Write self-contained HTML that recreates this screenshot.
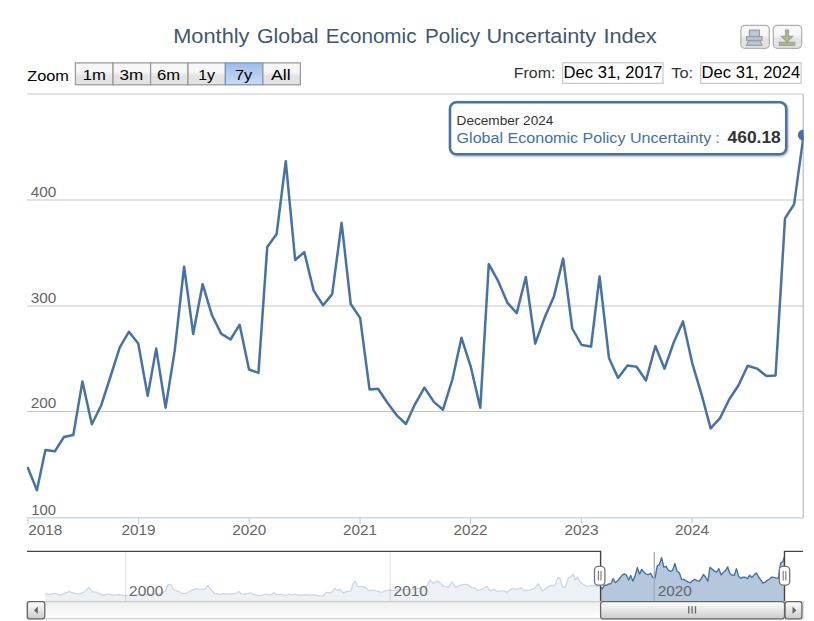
<!DOCTYPE html>
<html><head><meta charset="utf-8"><title>Monthly Global Economic Policy Uncertainty Index</title>
<style>
html,body{margin:0;padding:0;background:#fff;}
body{width:814px;height:621px;overflow:hidden;font-family:"Liberation Sans",sans-serif;}
svg{display:block;font-family:"Liberation Sans",sans-serif;}
</style></head><body>
<svg width="814" height="621" viewBox="0 0 814 621">
<defs>
<linearGradient id="gBtn" x1="0" y1="0" x2="0" y2="1"><stop offset="0.4" stop-color="#F7F7F7"/><stop offset="0.6" stop-color="#E3E3E3"/></linearGradient>
<linearGradient id="gSel" x1="0" y1="0" x2="0" y2="1"><stop offset="0" stop-color="#9FBCE4"/><stop offset="1" stop-color="#CADBF9"/></linearGradient>
<linearGradient id="gBar" x1="0" y1="0" x2="0" y2="1"><stop offset="0" stop-color="#FFFFFF"/><stop offset="1" stop-color="#CCCCCC"/></linearGradient>
<linearGradient id="gTrack" x1="0" y1="0" x2="0" y2="1"><stop offset="0" stop-color="#EEEEEE"/><stop offset="1" stop-color="#FFFFFF"/></linearGradient>
<clipPath id="plotClip"><rect x="27" y="90" width="776.6" height="428"/></clipPath>
<clipPath id="navIn"><rect x="600.6" y="545" width="183.89999999999998" height="60"/></clipPath>
<clipPath id="navOutL"><rect x="0" y="545" width="600.6" height="60"/></clipPath>
</defs>
<rect x="0" y="0" width="814" height="621" fill="#FFFFFF"/>

<g id="title">
<text x="173.2" y="42.6" font-size="20.5" fill="#3E576F" text-anchor="start" font-weight="normal" textLength="76.3" lengthAdjust="spacingAndGlyphs">Monthly</text>
<text x="257" y="42.6" font-size="20.5" fill="#3E576F" text-anchor="start" font-weight="normal" textLength="61.6" lengthAdjust="spacingAndGlyphs">Global</text>
<text x="325.8" y="42.6" font-size="20.5" fill="#3E576F" text-anchor="start" font-weight="normal" textLength="90.7" lengthAdjust="spacingAndGlyphs">Economic</text>
<text x="425" y="42.6" font-size="20.5" fill="#3E576F" text-anchor="start" font-weight="normal" textLength="55" lengthAdjust="spacingAndGlyphs">Policy</text>
<text x="486.4" y="42.6" font-size="20.5" fill="#3E576F" text-anchor="start" font-weight="normal" textLength="109.8" lengthAdjust="spacingAndGlyphs">Uncertainty</text>
<text x="603.4" y="42.6" font-size="20.5" fill="#3E576F" text-anchor="start" font-weight="normal" textLength="53.3" lengthAdjust="spacingAndGlyphs">Index</text>
</g>
<g id="exportButtons">
<rect x="740.9" y="25.3" width="28.4" height="23" rx="4" ry="4" fill="url(#gBtn)" stroke="#B0B0B0" stroke-width="1.25"/>
<rect x="773.3" y="25.3" width="28.4" height="23" rx="4" ry="4" fill="url(#gBtn)" stroke="#B0B0B0" stroke-width="1.25"/>
<path d="M746.6 40.3 L762 40.3 L762 36.6 L746.6 36.6 Z M749.4 36.6 L749.4 30 L759.4 30 L759.4 36.6 Z M748.6 40.9 L746.6 45.3 L762 45.3 L760 40.9 Z" fill="#B5C9DF" stroke="#A0A0A0" stroke-width="1.25"/>
<path d="M779.4 45.3 L794.7 45.3 L794.7 42.4 L779.4 42.4 Z M785.6 36.4 L785.6 30 L788.5 30 L788.5 36.4 L792.6 36.4 L787.05 41.9 L781.4 36.4 Z" fill="#A8BF77" stroke="#A0A0A0" stroke-width="1.25"/>
</g>
<g id="rangeSelector">
<text x="27.2" y="81.2" font-size="14.2" fill="#000000" text-anchor="start" font-weight="normal" textLength="41.6" lengthAdjust="spacingAndGlyphs">Zoom</text>
<rect x="75.4" y="62.9" width="37.6" height="21.9" fill="url(#gBtn)" stroke="#999999" stroke-width="1.25"/>
<rect x="113" y="62.9" width="37.6" height="21.9" fill="url(#gBtn)" stroke="#999999" stroke-width="1.25"/>
<rect x="150.6" y="62.9" width="37.4" height="21.9" fill="url(#gBtn)" stroke="#999999" stroke-width="1.25"/>
<rect x="188" y="62.9" width="37.4" height="21.9" fill="url(#gBtn)" stroke="#999999" stroke-width="1.25"/>
<rect x="225.4" y="62.9" width="37.5" height="21.9" fill="url(#gSel)" stroke="#7096C6" stroke-width="1.25"/>
<rect x="262.9" y="62.9" width="37.5" height="21.9" fill="url(#gBtn)" stroke="#999999" stroke-width="1.25"/>
<text x="82.69999999999999" y="80.2" font-size="14.6" fill="#000000" text-anchor="start" font-weight="normal" textLength="23.1" lengthAdjust="spacingAndGlyphs">1m</text>
<text x="119.5" y="80.2" font-size="14.6" fill="#000000" text-anchor="start" font-weight="normal" textLength="23.7" lengthAdjust="spacingAndGlyphs">3m</text>
<text x="156.9" y="80.2" font-size="14.6" fill="#000000" text-anchor="start" font-weight="normal" textLength="23.1" lengthAdjust="spacingAndGlyphs">6m</text>
<text x="198.2" y="80.2" font-size="14.6" fill="#000000" text-anchor="start" font-weight="normal" textLength="16.9" lengthAdjust="spacingAndGlyphs">1y</text>
<text x="235.0" y="80.2" font-size="14.6" fill="#000000" text-anchor="start" font-weight="normal" textLength="17.3" lengthAdjust="spacingAndGlyphs">7y</text>
<text x="270.90000000000003" y="80.2" font-size="14.6" fill="#000000" text-anchor="start" font-weight="normal" textLength="19.7" lengthAdjust="spacingAndGlyphs">All</text>
</g>
<g id="inputs">
<text x="513.8" y="77.6" font-size="15.4" fill="#333333" text-anchor="start" font-weight="normal" textLength="41.5" lengthAdjust="spacingAndGlyphs">From:</text>
<rect x="562.7" y="62.8" width="100.3" height="20.5" fill="#FFFFFF" stroke="#BDBDBD" stroke-width="1"/>
<text x="563.6" y="78.0" font-size="15.6" fill="#000000" text-anchor="start" font-weight="normal" textLength="98.6" lengthAdjust="spacingAndGlyphs">Dec 31, 2017</text>
<text x="671.2" y="77.6" font-size="15.4" fill="#333333" text-anchor="start" font-weight="normal" textLength="22" lengthAdjust="spacingAndGlyphs">To:</text>
<rect x="700.7" y="62.8" width="100.4" height="20.5" fill="#FFFFFF" stroke="#BDBDBD" stroke-width="1"/>
<text x="701.6" y="78.0" font-size="15.6" fill="#000000" text-anchor="start" font-weight="normal" textLength="98.6" lengthAdjust="spacingAndGlyphs">Dec 31, 2024</text>
</g>
<g id="grid" stroke="#C6C6C6" stroke-width="1.2">
<line x1="27" y1="94" x2="803" y2="94"/>
<line x1="27" y1="200" x2="803" y2="200"/>
<line x1="27" y1="306" x2="803" y2="306"/>
<line x1="27" y1="411.5" x2="803" y2="411.5"/>
</g>
<line x1="803.2" y1="94" x2="803.2" y2="518" stroke="#C0C0C0" stroke-width="1.25"/>
<g id="xaxis" stroke="#C0D0E0" stroke-width="1.25">
<line x1="27" y1="517.8" x2="803.6" y2="517.8"/>
<line x1="27.8" y1="517.8" x2="27.8" y2="523.8"/>
<line x1="138.5" y1="517.8" x2="138.5" y2="523.8"/>
<line x1="249.2" y1="517.8" x2="249.2" y2="523.8"/>
<line x1="360" y1="517.8" x2="360" y2="523.8"/>
<line x1="470.6" y1="517.8" x2="470.6" y2="523.8"/>
<line x1="581.4" y1="517.8" x2="581.4" y2="523.8"/>
<line x1="692.1" y1="517.8" x2="692.1" y2="523.8"/>
</g>
<g id="xlabels">
<text x="28.3" y="534.8" font-size="13.9" fill="#666666" text-anchor="start" font-weight="normal" textLength="34" lengthAdjust="spacingAndGlyphs">2018</text>
<text x="121.5" y="534.8" font-size="13.9" fill="#666666" text-anchor="start" font-weight="normal" textLength="34" lengthAdjust="spacingAndGlyphs">2019</text>
<text x="232.2" y="534.8" font-size="13.9" fill="#666666" text-anchor="start" font-weight="normal" textLength="34" lengthAdjust="spacingAndGlyphs">2020</text>
<text x="343" y="534.8" font-size="13.9" fill="#666666" text-anchor="start" font-weight="normal" textLength="34" lengthAdjust="spacingAndGlyphs">2021</text>
<text x="453.6" y="534.8" font-size="13.9" fill="#666666" text-anchor="start" font-weight="normal" textLength="34" lengthAdjust="spacingAndGlyphs">2022</text>
<text x="564.4" y="534.8" font-size="13.9" fill="#666666" text-anchor="start" font-weight="normal" textLength="34" lengthAdjust="spacingAndGlyphs">2023</text>
<text x="675.1" y="534.8" font-size="13.9" fill="#666666" text-anchor="start" font-weight="normal" textLength="34" lengthAdjust="spacingAndGlyphs">2024</text>
</g>
<g id="ylabels">
<text x="31.3" y="514.7" font-size="13.9" fill="#666666" text-anchor="start" font-weight="normal" textLength="24.8" lengthAdjust="spacingAndGlyphs">100</text>
<text x="30.8" y="408.2" font-size="13.9" fill="#666666" text-anchor="start" font-weight="normal" textLength="25.6" lengthAdjust="spacingAndGlyphs">200</text>
<text x="30.8" y="302.7" font-size="13.9" fill="#666666" text-anchor="start" font-weight="normal" textLength="25.6" lengthAdjust="spacingAndGlyphs">300</text>
<text x="30.8" y="196.7" font-size="13.9" fill="#666666" text-anchor="start" font-weight="normal" textLength="25.6" lengthAdjust="spacingAndGlyphs">400</text>
</g>
<g clip-path="url(#plotClip)"><path d="M27.50 467.00 L36.91 490.20 L45.41 450.00 L54.81 451.30 L63.92 437.00 L73.33 435.00 L82.43 381.40 L91.84 424.30 L101.25 405.20 L110.35 377.00 L119.76 347.30 L128.86 331.80 L138.27 343.50 L147.68 395.90 L156.18 348.60 L165.58 407.65 L174.69 350.90 L184.10 266.70 L193.20 334.00 L202.61 284.20 L212.02 315.30 L221.12 333.60 L230.53 339.50 L239.63 324.70 L249.04 369.50 L258.45 372.90 L267.25 247.00 L276.66 233.90 L285.76 161.20 L295.17 260.00 L304.27 252.10 L313.68 290.60 L323.09 305.20 L332.19 294.10 L341.60 222.80 L350.71 304.00 L360.11 317.90 L369.52 389.40 L378.02 388.80 L387.43 402.80 L396.53 415.10 L405.94 424.00 L415.04 404.10 L424.45 387.60 L433.86 401.90 L442.96 409.70 L452.37 379.50 L461.48 337.80 L470.89 367.20 L480.29 407.80 L488.79 264.10 L498.20 281.20 L507.30 302.60 L516.71 313.10 L525.82 277.00 L535.22 343.70 L544.63 317.60 L553.74 297.10 L563.14 258.60 L572.25 328.50 L581.66 345.00 L591.06 346.50 L599.56 276.40 L608.97 358.10 L618.07 377.90 L627.48 365.40 L636.59 366.80 L645.99 380.45 L655.40 346.00 L664.51 368.70 L673.91 342.00 L683.02 321.40 L692.43 363.90 L701.83 395.40 L710.63 428.35 L720.04 418.10 L729.15 399.50 L738.56 385.30 L747.66 365.70 L757.07 368.60 L766.48 376.00 L775.58 375.40 L784.99 218.40 L794.09 204.30 L803.50 135.80" fill="none" stroke="#4572A7" stroke-width="2.5" stroke-linejoin="round" stroke-linecap="butt"/>
<circle cx="803.5" cy="135.0" r="5.6" fill="#4572A7"/></g>
<g id="tooltip">
<rect x="451" y="103.2" width="336.2" height="52" rx="6.5" ry="6.5" fill="none" stroke="#000000" stroke-opacity="0.05" stroke-width="6"/>
<rect x="451" y="103.2" width="336.2" height="52" rx="6.5" ry="6.5" fill="none" stroke="#000000" stroke-opacity="0.08" stroke-width="4"/>
<rect x="451" y="103.2" width="336.2" height="52" rx="6.5" ry="6.5" fill="none" stroke="#000000" stroke-opacity="0.12" stroke-width="2"/>
<rect x="450" y="102.2" width="336.2" height="52" rx="6.5" ry="6.5" fill="#FFFFFF" fill-opacity="0.92" stroke="#4572A7" stroke-width="2.5"/>
<text x="456.6" y="124.9" font-size="12.9" fill="#333333" text-anchor="start" font-weight="normal" textLength="96.8" lengthAdjust="spacingAndGlyphs">December 2024</text>
<text x="456.6" y="142.5" font-size="15.2" fill="#4572A7" text-anchor="start" font-weight="normal" textLength="254.6" lengthAdjust="spacingAndGlyphs">Global Economic Policy Uncertainty</text>
<text x="715.6" y="142.5" font-size="15.2" fill="#4572A7" text-anchor="start" font-weight="normal">:</text>
<text x="727.6" y="142.9" font-size="16.2" fill="#333333" text-anchor="start" font-weight="bold" textLength="53.2" lengthAdjust="spacingAndGlyphs">460.18</text>
</g>
<g id="navigator">
<g clip-path="url(#navOutL)"><path d="M45.16 593.54 L49.21 594.64 L52.90 593.72 L56.58 593.72 L60.27 595.38 L64.88 593.17 L69.48 591.69 L74.09 593.17 L78.70 594.09 L84.22 592.25 L88.83 587.64 L92.52 591.69 L97.12 592.25 L102.65 595.38 L108.18 594.09 L113.71 595.01 L119.23 594.64 L124.76 595.56 L130.29 595.01 L139.50 594.64 L150.56 594.27 L159.77 593.54 L165.30 591.32 L168.06 584.51 L170.83 584.51 L173.59 589.48 L178.20 591.32 L182.11 593.72 L185.80 593.72 L190.40 590.96 L195.01 588.93 L199.62 589.48 L205.14 588.93 L207.91 585.43 L210.67 589.48 L214.36 593.17 L218.96 594.27 L223.57 593.54 L228.18 594.09 L233.71 593.54 L237.02 593.17 L238.86 591.32 L241.08 593.72 L244.76 594.46 L250.29 592.80 L253.97 594.46 L259.50 595.93 L265.03 594.27 L270.56 595.01 L273.88 592.80 L276.09 594.64 L281.61 594.27 L286.22 595.56 L288.98 594.09 L291.75 595.01 L294.51 594.09 L300.04 595.38 L304.61 594.64 L309.21 595.38 L313.82 594.64 L318.43 595.93 L323.03 595.93 L326.72 592.25 L330.40 593.17 L335.01 588.19 L336.85 590.40 L339.62 588.93 L343.30 593.17 L346.99 591.32 L350.67 590.96 L353.44 583.03 L355.28 581.19 L357.49 586.35 L361.73 586.72 L365.41 587.27 L369.10 590.77 L372.78 589.85 L377.39 591.32 L382.00 592.25 L386.60 590.40 L390.29 590.04 L393.97 590.40 L403.19 589.48 L414.24 589.11 L421.61 587.64 L427.14 585.80 L429.91 579.90 L433.59 583.59 L437.28 580.82 L440.96 583.95 L444.18 586.33 L448.35 587.37 L452.11 581.73 L455.66 587.37 L459.84 585.28 L464.02 584.24 L468.20 584.87 L471.33 588.00 L474.46 587.79 L477.59 590.51 L481.77 589.46 L486.99 586.33 L490.13 590.92 L494.30 589.46 L497.44 591.55 L502.66 590.51 L506.83 592.18 L512.06 588.42 L517.28 589.46 L520.41 587.79 L524.59 590.51 L529.81 590.09 L535.03 588.00 L538.16 583.61 L542.34 590.92 L546.52 588.00 L550.69 585.28 L554.45 585.91 L558.00 577.56 L560.09 577.97 L562.18 586.33 L565.31 587.37 L568.45 577.56 L570.53 576.93 L573.25 574.21 L575.34 580.06 L577.43 576.93 L579.93 581.73 L583.07 584.24 L587.24 586.33 L590.38 585.91 L594.55 585.28 L599.99 586.81 L602.23 589.03 L604.26 585.19 L606.50 585.31 L608.68 583.95 L610.92 583.76 L613.09 578.64 L615.34 582.73 L617.58 580.91 L619.75 578.22 L622.00 575.38 L624.17 573.90 L626.42 575.02 L628.66 580.02 L630.69 575.51 L632.93 581.14 L635.11 575.73 L637.35 567.69 L639.52 574.11 L641.77 569.36 L644.01 572.33 L646.18 574.08 L648.43 574.64 L650.60 573.23 L652.85 577.50 L655.08 577.83 L657.18 565.81 L659.42 564.56 L661.58 557.62 L663.82 567.05 L665.99 566.29 L668.23 569.97 L670.47 571.36 L672.63 570.30 L674.87 563.50 L677.04 571.25 L679.28 572.58 L681.52 579.40 L683.55 579.35 L685.79 580.68 L687.97 581.86 L690.21 582.71 L692.38 580.81 L694.63 579.23 L696.87 580.60 L699.04 581.34 L701.29 578.46 L703.46 574.48 L705.71 577.28 L707.95 581.16 L709.98 567.44 L712.22 569.07 L714.40 571.12 L716.64 572.12 L718.81 568.67 L721.06 575.04 L723.30 572.55 L725.47 570.59 L727.72 566.91 L729.89 573.59 L732.14 575.16 L734.38 575.31 L736.41 568.61 L738.65 576.41 L740.83 578.30 L743.07 577.11 L745.24 577.24 L747.49 578.55 L749.73 575.26 L751.90 577.43 L754.15 574.88 L756.32 572.91 L758.57 576.97 L760.80 579.98 L762.90 583.12 L765.14 582.14 L767.30 580.37 L769.54 579.01 L771.71 577.14 L773.95 577.42 L776.19 578.12 L778.35 578.07 L780.59 563.08 L782.76 561.73 L785.00 555.19 L785.00 601.2 L45.16 601.2 Z" fill="#EDF1F6"/><path d="M45.16 593.54 L49.21 594.64 L52.90 593.72 L56.58 593.72 L60.27 595.38 L64.88 593.17 L69.48 591.69 L74.09 593.17 L78.70 594.09 L84.22 592.25 L88.83 587.64 L92.52 591.69 L97.12 592.25 L102.65 595.38 L108.18 594.09 L113.71 595.01 L119.23 594.64 L124.76 595.56 L130.29 595.01 L139.50 594.64 L150.56 594.27 L159.77 593.54 L165.30 591.32 L168.06 584.51 L170.83 584.51 L173.59 589.48 L178.20 591.32 L182.11 593.72 L185.80 593.72 L190.40 590.96 L195.01 588.93 L199.62 589.48 L205.14 588.93 L207.91 585.43 L210.67 589.48 L214.36 593.17 L218.96 594.27 L223.57 593.54 L228.18 594.09 L233.71 593.54 L237.02 593.17 L238.86 591.32 L241.08 593.72 L244.76 594.46 L250.29 592.80 L253.97 594.46 L259.50 595.93 L265.03 594.27 L270.56 595.01 L273.88 592.80 L276.09 594.64 L281.61 594.27 L286.22 595.56 L288.98 594.09 L291.75 595.01 L294.51 594.09 L300.04 595.38 L304.61 594.64 L309.21 595.38 L313.82 594.64 L318.43 595.93 L323.03 595.93 L326.72 592.25 L330.40 593.17 L335.01 588.19 L336.85 590.40 L339.62 588.93 L343.30 593.17 L346.99 591.32 L350.67 590.96 L353.44 583.03 L355.28 581.19 L357.49 586.35 L361.73 586.72 L365.41 587.27 L369.10 590.77 L372.78 589.85 L377.39 591.32 L382.00 592.25 L386.60 590.40 L390.29 590.04 L393.97 590.40 L403.19 589.48 L414.24 589.11 L421.61 587.64 L427.14 585.80 L429.91 579.90 L433.59 583.59 L437.28 580.82 L440.96 583.95 L444.18 586.33 L448.35 587.37 L452.11 581.73 L455.66 587.37 L459.84 585.28 L464.02 584.24 L468.20 584.87 L471.33 588.00 L474.46 587.79 L477.59 590.51 L481.77 589.46 L486.99 586.33 L490.13 590.92 L494.30 589.46 L497.44 591.55 L502.66 590.51 L506.83 592.18 L512.06 588.42 L517.28 589.46 L520.41 587.79 L524.59 590.51 L529.81 590.09 L535.03 588.00 L538.16 583.61 L542.34 590.92 L546.52 588.00 L550.69 585.28 L554.45 585.91 L558.00 577.56 L560.09 577.97 L562.18 586.33 L565.31 587.37 L568.45 577.56 L570.53 576.93 L573.25 574.21 L575.34 580.06 L577.43 576.93 L579.93 581.73 L583.07 584.24 L587.24 586.33 L590.38 585.91 L594.55 585.28 L599.99 586.81 L602.23 589.03 L604.26 585.19 L606.50 585.31 L608.68 583.95 L610.92 583.76 L613.09 578.64 L615.34 582.73 L617.58 580.91 L619.75 578.22 L622.00 575.38 L624.17 573.90 L626.42 575.02 L628.66 580.02 L630.69 575.51 L632.93 581.14 L635.11 575.73 L637.35 567.69 L639.52 574.11 L641.77 569.36 L644.01 572.33 L646.18 574.08 L648.43 574.64 L650.60 573.23 L652.85 577.50 L655.08 577.83 L657.18 565.81 L659.42 564.56 L661.58 557.62 L663.82 567.05 L665.99 566.29 L668.23 569.97 L670.47 571.36 L672.63 570.30 L674.87 563.50 L677.04 571.25 L679.28 572.58 L681.52 579.40 L683.55 579.35 L685.79 580.68 L687.97 581.86 L690.21 582.71 L692.38 580.81 L694.63 579.23 L696.87 580.60 L699.04 581.34 L701.29 578.46 L703.46 574.48 L705.71 577.28 L707.95 581.16 L709.98 567.44 L712.22 569.07 L714.40 571.12 L716.64 572.12 L718.81 568.67 L721.06 575.04 L723.30 572.55 L725.47 570.59 L727.72 566.91 L729.89 573.59 L732.14 575.16 L734.38 575.31 L736.41 568.61 L738.65 576.41 L740.83 578.30 L743.07 577.11 L745.24 577.24 L747.49 578.55 L749.73 575.26 L751.90 577.43 L754.15 574.88 L756.32 572.91 L758.57 576.97 L760.80 579.98 L762.90 583.12 L765.14 582.14 L767.30 580.37 L769.54 579.01 L771.71 577.14 L773.95 577.42 L776.19 578.12 L778.35 578.07 L780.59 563.08 L782.76 561.73 L785.00 555.19" fill="none" stroke="#C9D6E7" stroke-width="1.25" stroke-linejoin="round"/></g>
<line x1="125.7" y1="552" x2="125.7" y2="601" stroke="#000000" stroke-opacity="0.11" stroke-width="1.1"/>
<line x1="390.2" y1="552" x2="390.2" y2="601" stroke="#000000" stroke-opacity="0.11" stroke-width="1.1"/>
<g clip-path="url(#navIn)"><rect x="600.6" y="552" width="183.89999999999998" height="49.5" fill="#FFFFFF" fill-opacity="0"/><path d="M45.16 593.54 L49.21 594.64 L52.90 593.72 L56.58 593.72 L60.27 595.38 L64.88 593.17 L69.48 591.69 L74.09 593.17 L78.70 594.09 L84.22 592.25 L88.83 587.64 L92.52 591.69 L97.12 592.25 L102.65 595.38 L108.18 594.09 L113.71 595.01 L119.23 594.64 L124.76 595.56 L130.29 595.01 L139.50 594.64 L150.56 594.27 L159.77 593.54 L165.30 591.32 L168.06 584.51 L170.83 584.51 L173.59 589.48 L178.20 591.32 L182.11 593.72 L185.80 593.72 L190.40 590.96 L195.01 588.93 L199.62 589.48 L205.14 588.93 L207.91 585.43 L210.67 589.48 L214.36 593.17 L218.96 594.27 L223.57 593.54 L228.18 594.09 L233.71 593.54 L237.02 593.17 L238.86 591.32 L241.08 593.72 L244.76 594.46 L250.29 592.80 L253.97 594.46 L259.50 595.93 L265.03 594.27 L270.56 595.01 L273.88 592.80 L276.09 594.64 L281.61 594.27 L286.22 595.56 L288.98 594.09 L291.75 595.01 L294.51 594.09 L300.04 595.38 L304.61 594.64 L309.21 595.38 L313.82 594.64 L318.43 595.93 L323.03 595.93 L326.72 592.25 L330.40 593.17 L335.01 588.19 L336.85 590.40 L339.62 588.93 L343.30 593.17 L346.99 591.32 L350.67 590.96 L353.44 583.03 L355.28 581.19 L357.49 586.35 L361.73 586.72 L365.41 587.27 L369.10 590.77 L372.78 589.85 L377.39 591.32 L382.00 592.25 L386.60 590.40 L390.29 590.04 L393.97 590.40 L403.19 589.48 L414.24 589.11 L421.61 587.64 L427.14 585.80 L429.91 579.90 L433.59 583.59 L437.28 580.82 L440.96 583.95 L444.18 586.33 L448.35 587.37 L452.11 581.73 L455.66 587.37 L459.84 585.28 L464.02 584.24 L468.20 584.87 L471.33 588.00 L474.46 587.79 L477.59 590.51 L481.77 589.46 L486.99 586.33 L490.13 590.92 L494.30 589.46 L497.44 591.55 L502.66 590.51 L506.83 592.18 L512.06 588.42 L517.28 589.46 L520.41 587.79 L524.59 590.51 L529.81 590.09 L535.03 588.00 L538.16 583.61 L542.34 590.92 L546.52 588.00 L550.69 585.28 L554.45 585.91 L558.00 577.56 L560.09 577.97 L562.18 586.33 L565.31 587.37 L568.45 577.56 L570.53 576.93 L573.25 574.21 L575.34 580.06 L577.43 576.93 L579.93 581.73 L583.07 584.24 L587.24 586.33 L590.38 585.91 L594.55 585.28 L599.99 586.81 L602.23 589.03 L604.26 585.19 L606.50 585.31 L608.68 583.95 L610.92 583.76 L613.09 578.64 L615.34 582.73 L617.58 580.91 L619.75 578.22 L622.00 575.38 L624.17 573.90 L626.42 575.02 L628.66 580.02 L630.69 575.51 L632.93 581.14 L635.11 575.73 L637.35 567.69 L639.52 574.11 L641.77 569.36 L644.01 572.33 L646.18 574.08 L648.43 574.64 L650.60 573.23 L652.85 577.50 L655.08 577.83 L657.18 565.81 L659.42 564.56 L661.58 557.62 L663.82 567.05 L665.99 566.29 L668.23 569.97 L670.47 571.36 L672.63 570.30 L674.87 563.50 L677.04 571.25 L679.28 572.58 L681.52 579.40 L683.55 579.35 L685.79 580.68 L687.97 581.86 L690.21 582.71 L692.38 580.81 L694.63 579.23 L696.87 580.60 L699.04 581.34 L701.29 578.46 L703.46 574.48 L705.71 577.28 L707.95 581.16 L709.98 567.44 L712.22 569.07 L714.40 571.12 L716.64 572.12 L718.81 568.67 L721.06 575.04 L723.30 572.55 L725.47 570.59 L727.72 566.91 L729.89 573.59 L732.14 575.16 L734.38 575.31 L736.41 568.61 L738.65 576.41 L740.83 578.30 L743.07 577.11 L745.24 577.24 L747.49 578.55 L749.73 575.26 L751.90 577.43 L754.15 574.88 L756.32 572.91 L758.57 576.97 L760.80 579.98 L762.90 583.12 L765.14 582.14 L767.30 580.37 L769.54 579.01 L771.71 577.14 L773.95 577.42 L776.19 578.12 L778.35 578.07 L780.59 563.08 L782.76 561.73 L785.00 555.19 L785.00 601.2 L45.16 601.2 Z" fill="#B5C7DC"/><path d="M45.16 593.54 L49.21 594.64 L52.90 593.72 L56.58 593.72 L60.27 595.38 L64.88 593.17 L69.48 591.69 L74.09 593.17 L78.70 594.09 L84.22 592.25 L88.83 587.64 L92.52 591.69 L97.12 592.25 L102.65 595.38 L108.18 594.09 L113.71 595.01 L119.23 594.64 L124.76 595.56 L130.29 595.01 L139.50 594.64 L150.56 594.27 L159.77 593.54 L165.30 591.32 L168.06 584.51 L170.83 584.51 L173.59 589.48 L178.20 591.32 L182.11 593.72 L185.80 593.72 L190.40 590.96 L195.01 588.93 L199.62 589.48 L205.14 588.93 L207.91 585.43 L210.67 589.48 L214.36 593.17 L218.96 594.27 L223.57 593.54 L228.18 594.09 L233.71 593.54 L237.02 593.17 L238.86 591.32 L241.08 593.72 L244.76 594.46 L250.29 592.80 L253.97 594.46 L259.50 595.93 L265.03 594.27 L270.56 595.01 L273.88 592.80 L276.09 594.64 L281.61 594.27 L286.22 595.56 L288.98 594.09 L291.75 595.01 L294.51 594.09 L300.04 595.38 L304.61 594.64 L309.21 595.38 L313.82 594.64 L318.43 595.93 L323.03 595.93 L326.72 592.25 L330.40 593.17 L335.01 588.19 L336.85 590.40 L339.62 588.93 L343.30 593.17 L346.99 591.32 L350.67 590.96 L353.44 583.03 L355.28 581.19 L357.49 586.35 L361.73 586.72 L365.41 587.27 L369.10 590.77 L372.78 589.85 L377.39 591.32 L382.00 592.25 L386.60 590.40 L390.29 590.04 L393.97 590.40 L403.19 589.48 L414.24 589.11 L421.61 587.64 L427.14 585.80 L429.91 579.90 L433.59 583.59 L437.28 580.82 L440.96 583.95 L444.18 586.33 L448.35 587.37 L452.11 581.73 L455.66 587.37 L459.84 585.28 L464.02 584.24 L468.20 584.87 L471.33 588.00 L474.46 587.79 L477.59 590.51 L481.77 589.46 L486.99 586.33 L490.13 590.92 L494.30 589.46 L497.44 591.55 L502.66 590.51 L506.83 592.18 L512.06 588.42 L517.28 589.46 L520.41 587.79 L524.59 590.51 L529.81 590.09 L535.03 588.00 L538.16 583.61 L542.34 590.92 L546.52 588.00 L550.69 585.28 L554.45 585.91 L558.00 577.56 L560.09 577.97 L562.18 586.33 L565.31 587.37 L568.45 577.56 L570.53 576.93 L573.25 574.21 L575.34 580.06 L577.43 576.93 L579.93 581.73 L583.07 584.24 L587.24 586.33 L590.38 585.91 L594.55 585.28 L599.99 586.81 L602.23 589.03 L604.26 585.19 L606.50 585.31 L608.68 583.95 L610.92 583.76 L613.09 578.64 L615.34 582.73 L617.58 580.91 L619.75 578.22 L622.00 575.38 L624.17 573.90 L626.42 575.02 L628.66 580.02 L630.69 575.51 L632.93 581.14 L635.11 575.73 L637.35 567.69 L639.52 574.11 L641.77 569.36 L644.01 572.33 L646.18 574.08 L648.43 574.64 L650.60 573.23 L652.85 577.50 L655.08 577.83 L657.18 565.81 L659.42 564.56 L661.58 557.62 L663.82 567.05 L665.99 566.29 L668.23 569.97 L670.47 571.36 L672.63 570.30 L674.87 563.50 L677.04 571.25 L679.28 572.58 L681.52 579.40 L683.55 579.35 L685.79 580.68 L687.97 581.86 L690.21 582.71 L692.38 580.81 L694.63 579.23 L696.87 580.60 L699.04 581.34 L701.29 578.46 L703.46 574.48 L705.71 577.28 L707.95 581.16 L709.98 567.44 L712.22 569.07 L714.40 571.12 L716.64 572.12 L718.81 568.67 L721.06 575.04 L723.30 572.55 L725.47 570.59 L727.72 566.91 L729.89 573.59 L732.14 575.16 L734.38 575.31 L736.41 568.61 L738.65 576.41 L740.83 578.30 L743.07 577.11 L745.24 577.24 L747.49 578.55 L749.73 575.26 L751.90 577.43 L754.15 574.88 L756.32 572.91 L758.57 576.97 L760.80 579.98 L762.90 583.12 L765.14 582.14 L767.30 580.37 L769.54 579.01 L771.71 577.14 L773.95 577.42 L776.19 578.12 L778.35 578.07 L780.59 563.08 L782.76 561.73 L785.00 555.19" fill="none" stroke="#4572A7" stroke-width="1.4" stroke-linejoin="round"/>
<line x1="654.3" y1="552" x2="654.3" y2="601" stroke="#9FAABA" stroke-width="1.25"/></g>
<text x="129.1" y="595.9" font-size="13.9" fill="#6B6B6B" text-anchor="start" font-weight="normal" textLength="34.2" lengthAdjust="spacingAndGlyphs">2000</text>
<text x="393.59999999999997" y="595.9" font-size="13.9" fill="#6B6B6B" text-anchor="start" font-weight="normal" textLength="34.2" lengthAdjust="spacingAndGlyphs">2010</text>
<text x="657.6999999999999" y="595.9" font-size="13.9" fill="#666666" text-anchor="start" font-weight="normal" textLength="34.2" lengthAdjust="spacingAndGlyphs">2020</text>
<path d="M27 551.4 L600.6 551.4 L600.6 601.4 M784.5 601.4 L784.5 551.4 L803 551.4" fill="none" stroke="#444444" stroke-width="1.4"/>
<rect x="594.5" y="566.4" width="10.4" height="18.8" rx="3.6" ry="3.6" fill="#FFFFFF" stroke="#777777" stroke-width="1.3"/>
<path d="M598.4 571 L598.4 580.6 M601.0 571 L601.0 580.6" stroke="#777777" stroke-width="1.1" fill="none"/>
<rect x="779.3" y="566.4" width="10.4" height="18.8" rx="3.6" ry="3.6" fill="#FFFFFF" stroke="#777777" stroke-width="1.3"/>
<path d="M783.2 571 L783.2 580.6 M785.8 571 L785.8 580.6" stroke="#777777" stroke-width="1.1" fill="none"/>
</g>
<g id="scrollbar">
<rect x="27" y="601.6" width="776" height="17.2" fill="url(#gTrack)" stroke="#CCCCCC" stroke-width="1.25"/>
<rect x="600.6" y="601.6" width="183.89999999999998" height="17.2" rx="2.5" ry="2.5" fill="url(#gBar)" stroke="#666666" stroke-width="1.25"/>
<path d="M688.8 606.3 L688.8 613.6 M692.1 606.3 L692.1 613.6 M695.5 606.3 L695.5 613.6" stroke="#666666" stroke-width="1.3" fill="none"/>
<rect x="27.4" y="601.6" width="17.4" height="17.2" rx="2.5" ry="2.5" fill="url(#gBar)" stroke="#666666" stroke-width="1.25"/>
<rect x="785.1" y="601.6" width="16.8" height="17.2" rx="2.5" ry="2.5" fill="url(#gBar)" stroke="#666666" stroke-width="1.25"/>
<path d="M34 610.3 L37.8 606.6 L37.8 614 Z" fill="#666666"/>
<path d="M796.3 610.3 L792.5 606.6 L792.5 614 Z" fill="#666666"/>
</g>
</svg></body></html>
